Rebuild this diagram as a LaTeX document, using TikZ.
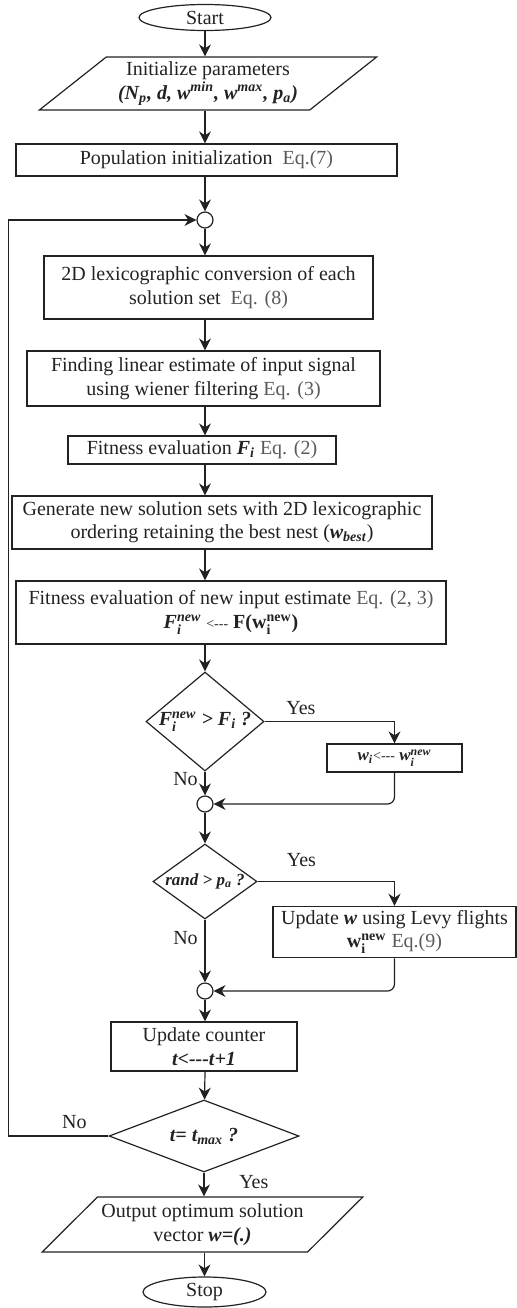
\documentclass[tikz,border=0pt]{standalone}
\usepackage{amsmath}
\usepackage{xcolor}
\usepackage{fontspec}
\setmainfont{Liberation Serif}
\usepackage{tikz}
\usetikzlibrary{shapes.geometric,arrows.meta}

\definecolor{eqgray}{HTML}{5A5A5A}
\definecolor{inkline}{HTML}{222222}
\newcommand{\eqtxt}[1]{{\color{eqgray}#1}}
\newcommand{\bfit}[1]{\textbf{\textit{#1}}}
\newcommand{\supsub}[2]{\ensuremath{^{\text{#1}}_{\text{#2}}}}
\newcommand{\getsarrow}{<-{}-{}-}

\begin{document}
\begin{tikzpicture}[
  x=0.5pt, y={(0pt,-0.5pt)},
  every node/.style={font=\fontsize{10}{11.7}\selectfont, text=inkline},
  box/.style={draw=inkline,line width=0.6pt,align=center,inner sep=2pt},
  term/.style={draw=inkline,line width=0.6pt,ellipse,inner sep=0pt},
  io/.style={draw=inkline,line width=0.6pt,trapezium,trapezium stretches=true,align=center,inner sep=1pt},
  decision/.style={draw=inkline,line width=0.6pt,diamond,inner sep=0pt},
  joint/.style={draw=inkline,line width=0.6pt,circle,minimum size=8pt,inner sep=0pt},
  arr/.style={-{Stealth[length=6pt,width=6pt]},line width=0.6pt,draw=inkline}
]
\useasboundingbox (0,0) rectangle (517,1308);

\node[term, minimum width=66pt, minimum height=13pt] (start) at (205,17.5) {Start};
\node[io, trapezium left angle=38, trapezium right angle=142, minimum width=169pt, minimum height=26.5pt] (param) at (208,83.5)
  {Initialize parameters\\ \bfit{(N\textsubscript{p}, d, w\textsuperscript{min}, w\textsuperscript{max}, p\textsubscript{a})}};
\node[box, minimum width=190.5pt, minimum height=16pt] (pop) at (206.5,160) {Population initialization\ \ \eqtxt{Eq.(7)}};
\node[joint] (c1) at (205,220) {};
\node[box, minimum width=164.5pt, minimum height=31.5pt] (lex) at (208.5,287.5)
  {2D lexicographic conversion of each\\ solution set\ \ \eqtxt{Eq. (8)}};
\node[box, minimum width=176.5pt, minimum height=27.5pt] (find) at (203.5,378.5)
  {Finding linear estimate of input signal\\ using wiener filtering \eqtxt{Eq. (3)}};
\node[box, minimum width=134pt, minimum height=14pt] (fit) at (202,450)
  {Fitness evaluation \bfit{F\textsubscript{i}} \eqtxt{Eq. (2)}};
\node[box, minimum width=210pt, minimum height=26.5pt] (gen) at (222,522.5)
  {Generate new solution sets with 2D lexicographic\\ ordering retaining the best nest (\bfit{w\textsubscript{best}})};
\node[box, minimum width=215pt, minimum height=31.5pt] (fnew) at (231,612.5)
  {Fitness evaluation of new input estimate \eqtxt{Eq. (2, 3)}\\ \bfit{F\supsub{new}{i}} {\scriptsize\getsarrow} \textbf{F(w\supsub{new}{i})}};
\node[decision, minimum width=59pt, minimum height=49.5pt,
  label=center:{\bfit{F\supsub{new}{i} > F\textsubscript{i} ?}}] (d1) at (205,721.5) {};
\node[box, minimum width=67.5pt, minimum height=14pt, font=\fontsize{8.5}{10}\selectfont] (wnew) at (394.5,758)
  {\bfit{w\textsubscript{i}}{\scriptsize\getsarrow} \bfit{w\supsub{new}{i}}};
\node[joint] (c2) at (205,804) {};
\node[decision, minimum width=52pt, minimum height=37.5pt,
  label={[font=\fontsize{8.5}{10}\selectfont]center:{\bfit{rand > p\textsubscript{a} ?}}}] (d2) at (205,881.5) {};
\node[box, minimum width=121.5pt, minimum height=25pt] (levy) at (394.5,932)
  {Update \bfit{w} using Levy flights\\ \textbf{w\supsub{new}{i}} \eqtxt{Eq.(9)}};
\node[joint] (c3) at (205,991) {};
\node[box, minimum width=93pt, minimum height=24.5pt] (counter) at (204,1046.5) {Update counter\\ \bfit{t\getsarrow t+1}};
\node[decision, minimum width=95pt, minimum height=36pt,
  label=center:{\bfit{t= t\textsubscript{max} ?}}] (d3) at (204,1136) {};
\node[io, trapezium left angle=40, trapezium right angle=140, minimum width=160.5pt, minimum height=27.5pt] (out) at (202.5,1224.5)
  {Output optimum solution\\ vector \bfit{w=(.)}};
\node[term, minimum width=61.5pt, minimum height=15pt] (stop) at (204.5,1292) {Stop};

% main column
\draw[arr] (start) -- (start |- param.north);
\draw[arr] (c1 |- param.south) -- (c1 |- pop.north);
\draw[arr] (c1 |- pop.south) -- (c1);
\draw[arr] (c1) -- (c1 |- lex.north);
\draw[arr] (c1 |- lex.south) -- (c1 |- find.north);
\draw[arr] (c1 |- find.south) -- (c1 |- fit.north);
\draw[arr] (c1 |- fit.south) -- (c1 |- gen.north);
\draw[arr] (c1 |- gen.south) -- (c1 |- fnew.north);
\draw[arr] (c1 |- fnew.south) -- (d1);

% first test
\draw[arr] (d1.east) -| node[pos=0.14, above] {Yes} (wnew.north);
\draw[arr, rounded corners=3.5pt] (wnew.south) |- (c2.east);
\draw[arr] (d1) -- node[pos=0.3, left] {No} (c2);
\draw[arr] (c2) -- (d2);

% second test
\draw[arr] (d2.east) -| node[pos=0.16, above=4pt] {Yes} (levy.north);
\draw[arr, rounded corners=3.5pt] (levy.south) |- (c3.east);
\draw[arr] (d2) -- node[pos=0.3, left] {No} (c3);
\draw[arr] (c3) -- (c3 |- counter.north);
\draw[arr] (c3 |- counter.south) -- (d3);

% loop and exit
\draw[arr] (d3.west) -- node[pos=0.34, above] {No} ++(-100,0) |- (c1.west);
\draw[arr] (d3) -- node[pos=0.4, right=14pt] {Yes} (d3 |- out.north);
\draw[arr] (stop |- out.south) -- (stop);
\end{tikzpicture}
\end{document}
